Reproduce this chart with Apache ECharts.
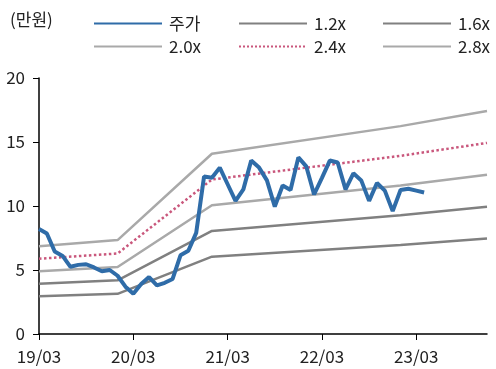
<!DOCTYPE html>
<html>
<head>
<meta charset="utf-8">
<script src="https://cdn.jsdelivr.net/npm/echarts@6/dist/echarts.min.js"></script>
<style>
  html, body { margin: 0; padding: 0; background: #fff; }
  #chart { width: 496px; height: 369px; }
</style>
</head>
<body>
<div id="chart"></div>
<script>
// 월 단위 x값 (19/03 = 0)
const xLabels = ['19/03', '20/03', '21/03', '22/03', '23/03']
const priceMonths = []
for (let i = 0; i < 50; i++) priceMonths.push(i)
// 주가 (만원)
const price = [
  8.2, 7.85, 6.45, 6.1, 5.25, 5.4, 5.45, 5.2, 4.9, 5.0,
  4.55, 3.7, 3.15, 3.9, 4.45, 3.8, 4.0, 4.3, 6.15, 6.5,
  7.9, 12.3, 12.2, 13.0, 11.7, 10.4, 11.3, 13.55, 13.0, 12.0,
  9.95, 11.6, 11.25, 13.8, 13.1, 10.9, 12.2, 13.55, 13.4, 11.3,
  12.55, 12.0, 10.4, 11.8, 11.2, 9.6, 11.25, 11.35, 11.2, 11.05
]
// PBR 밴드
const bandMonths = [0, 10, 22, 46, 57]
const band12 = [2.94, 3.14, 6.04, 6.96, 7.46]
const band16 = [3.92, 4.19, 8.05, 9.28, 9.95]
const band20 = [4.9, 5.24, 10.06, 11.6, 12.44]
const band24 = [5.88, 6.29, 12.07, 13.92, 14.93]
const band28 = [6.86, 7.34, 14.08, 16.24, 17.42]

const FONT = '"Noto Sans CJK KR", "Noto Sans", sans-serif'
const DARK = '#808080'
const LIGHT = '#a9a9a9'

const pairs = (xs, ys) => xs.map((x, i) => [x, ys[i]])

const bandSeries = (name, ys, color, type) => ({
  name: name,
  type: 'line',
  data: pairs(bandMonths, ys),
  symbol: 'none',
  silent: true,
  lineStyle: { color: color, width: 2.5, type: type || 'solid' },
  itemStyle: { color: color },
  z: 2
})

// 범례 아이콘의 동그라미는 숨기고 선만 보이게
const legendAt = (name, left, top) => ({
  data: [name],
  left: left,
  top: top,
  itemWidth: 68,
  itemHeight: 14,
  itemGap: 0,
  itemStyle: { opacity: 0 },
  textStyle: { fontFamily: FONT, fontSize: 17, color: '#222', padding: [0, 0, 0, 2] }
})

const chart = echarts.init(document.getElementById('chart'))
chart.setOption({
  animation: false,
  title: {
    text: '(만원)',
    left: 5,
    top: 6,
    textStyle: { fontFamily: FONT, fontSize: 17, fontWeight: 'normal', color: '#222' }
  },
  legend: [
    legendAt('주가', 88, 10),
    legendAt('1.2x', 233, 10),
    legendAt('1.6x', 377, 10),
    legendAt('2.0x', 88, 33),
    legendAt('2.4x', 233, 33),
    legendAt('2.8x', 377, 33)
  ],
  grid: { left: 39, right: 9, top: 78, bottom: 35 },
  xAxis: {
    type: 'value',
    min: 0,
    max: 57,
    interval: 12,
    splitLine: { show: false },
    axisLine: { lineStyle: { color: '#000', width: 1.5 } },
    axisTick: { show: true, length: 6, lineStyle: { color: '#000' }, customValues: [0, 12, 24, 36, 48] },
    axisLabel: {
      customValues: [0, 12, 24, 36, 48],
      formatter: v => xLabels[Math.round(v / 12)] || '',
      fontFamily: FONT, fontSize: 17, color: '#222', margin: 14
    }
  },
  yAxis: {
    type: 'value',
    min: 0,
    max: 20,
    interval: 5,
    splitLine: { show: false },
    axisLine: { show: true, lineStyle: { color: '#000', width: 1.5 } },
    axisTick: { show: true, length: 6, lineStyle: { color: '#000' } },
    axisLabel: { fontFamily: FONT, fontSize: 17, color: '#222', margin: 14 }
  },
  series: [
    {
      name: '주가',
      type: 'line',
      data: pairs(priceMonths, price),
      symbol: 'none',
      lineStyle: { color: '#2f6ca8', width: 4 },
      itemStyle: { color: '#2f6ca8' },
      z: 5
    },
    bandSeries('1.2x', band12, DARK),
    bandSeries('1.6x', band16, DARK),
    bandSeries('2.0x', band20, LIGHT),
    bandSeries('2.4x', band24, '#c9577c', 'dotted'),
    bandSeries('2.8x', band28, LIGHT)
  ]
})
</script>
</body>
</html>
